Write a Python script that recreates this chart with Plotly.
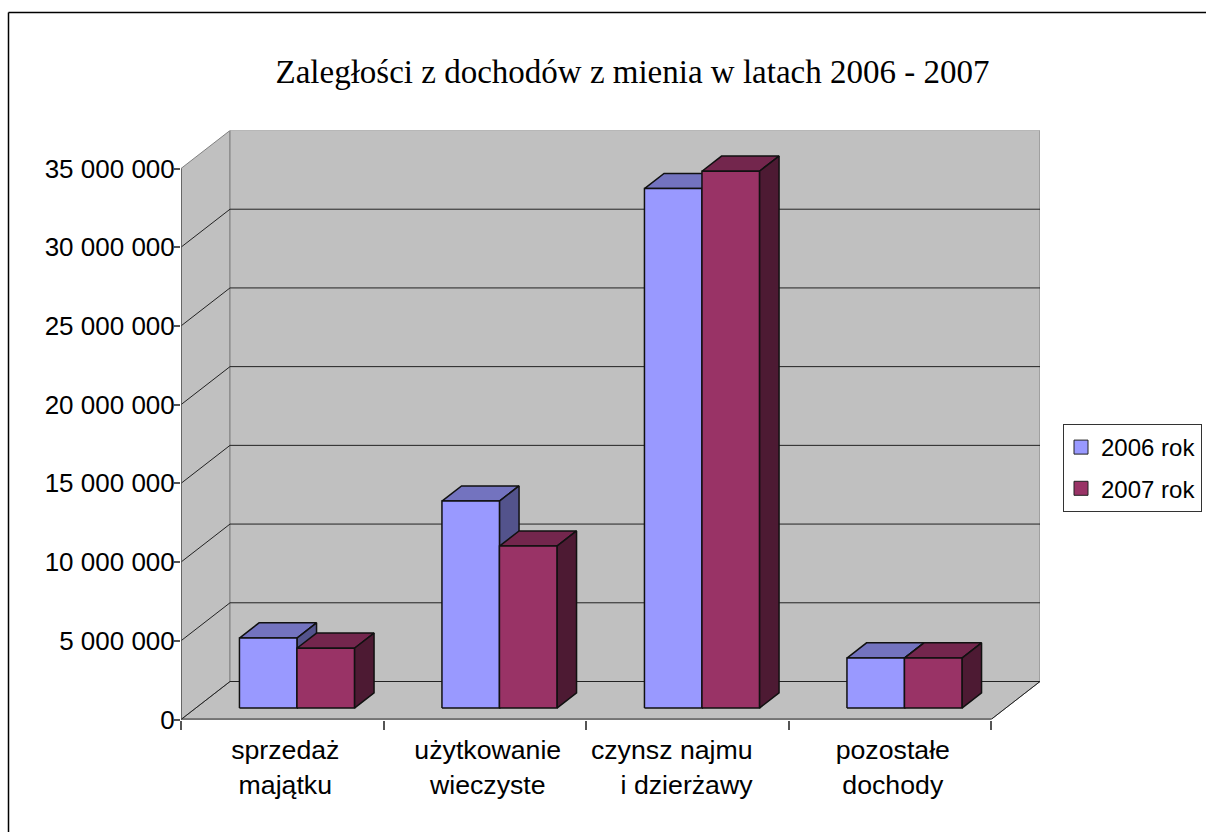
import plotly.graph_objects as go

W, H = 1206, 832

title = "Zaległości z dochodów z mienia w latach 2006 - 2007"
categories = ["sprzedaż<br>majątku", "użytkowanie<br>wieczyste",
              "czynsz najmu\u00a0\u00a0\u00a0\u00a0\u00a0<br>i dzierżawy\u00a0", "pozostałe<br>dochody"]
years = ["2006 rok", "2007 rok"]
values_2006 = [4450000, 13150000, 33000000, 3180000]
values_2007 = [3800000, 10290000, 34100000, 3180000]
y_ticks = [0, 5000000, 10000000, 15000000, 20000000, 25000000, 30000000, 35000000]
y_labels = ["0", "5 000 000", "10 000 000", "15 000 000", "20 000 000",
            "25 000 000", "30 000 000", "35 000 000"]

front_colors = ["#9999FF", "#993366"]
top_colors = ["#7373BF", "#73264D"]
side_colors = ["#53538C", "#4D1A33"]

# pixel layout of the chart box
PX_LEFT, PX_ZERO, PX_PER_CAT, PX_PER_35M = 181.0, 719.5, 202.5, 551.0
PX_DX, PX_DY = 49.0, 38.0
DX = PX_DX / PX_PER_CAT                 # depth in category units
DY = PX_DY / PX_PER_35M * 35000000      # depth in value units
YMAX = 35000000
NC = len(categories)
BAR_W = 57.5 / PX_PER_CAT
BAR_D0, BAR_D1 = 0.30, 0.70             # bar occupies this part of the depth


def proj(x, v, d):
    return x + d * DX, v + d * DY


def poly(points, fill, line, width=1.0):
    xs, ys = zip(*(points + points[:1]))
    return go.Scatter(x=xs, y=ys, mode="lines", fill="toself", fillcolor=fill,
                      line=dict(color=line, width=width), hoverinfo="skip",
                      showlegend=False)


fig = go.Figure()

# walls and floor
fig.add_trace(poly([proj(0, 0, 0), proj(NC, 0, 0), proj(NC, 0, 1), proj(0, 0, 1)], "#C0C0C0", "#808080"))
fig.add_trace(poly([proj(0, 0, 0), proj(0, 0, 1), proj(0, YMAX, 1), proj(0, YMAX, 0)], "#C0C0C0", "#808080"))
fig.add_trace(poly([proj(0, 0, 1), proj(NC, 0, 1), proj(NC, YMAX, 1), proj(0, YMAX, 1)], "#C0C0C0", "#808080"))

# gridlines on the walls
gx, gy = [], []
for v in y_ticks[:-1]:
    pts = [proj(0, v, 0), proj(0, v, 1), proj(NC, v, 1)]
    gx += [p[0] for p in pts] + [None]
    gy += [p[1] for p in pts] + [None]
fig.add_trace(go.Scatter(x=gx, y=gy, mode="lines", line=dict(color="#222222", width=1),
                         hoverinfo="skip", showlegend=False))
# front edge of floor, right edge of floor, left axis
fig.add_trace(go.Scatter(x=[0, NC], y=[0, 0], mode="lines", line=dict(color="#333333", width=2),
                         hoverinfo="skip", showlegend=False))
fig.add_trace(go.Scatter(x=[NC, NC + DX], y=[0, DY], mode="lines", line=dict(color="#222222", width=1),
                         hoverinfo="skip", showlegend=False))
fig.add_trace(go.Scatter(x=[0, 0], y=[0, YMAX], mode="lines", line=dict(color="#555555", width=1.5),
                         hoverinfo="skip", showlegend=False))

# bars, painted back to front from left to right
for c in range(NC):
    center = c + 0.5
    for s, vals in enumerate([values_2006, values_2007]):
        v = vals[c]
        x0 = center - BAR_W + s * BAR_W
        x1 = x0 + BAR_W
        lc = "#111111"
        fig.add_trace(poly([proj(x0, v, BAR_D0), proj(x1, v, BAR_D0), proj(x1, v, BAR_D1), proj(x0, v, BAR_D1)],
                           top_colors[s], lc, 1.5))
        fig.add_trace(poly([proj(x1, 0, BAR_D0), proj(x1, 0, BAR_D1), proj(x1, v, BAR_D1), proj(x1, v, BAR_D0)],
                           side_colors[s], lc, 1.5))
        fig.add_trace(poly([proj(x0, 0, BAR_D0), proj(x1, 0, BAR_D0), proj(x1, v, BAR_D0), proj(x0, v, BAR_D0)],
                           front_colors[s], lc, 1.5))

# legend entries
for s, yr in enumerate(years):
    fig.add_trace(go.Scatter(x=[None], y=[None], mode="markers", name=yr, legendgroup=yr,
                             marker=dict(symbol="square", size=14, color=front_colors[s],
                                         line=dict(color="#222222", width=1))))

fig.update_layout(
    template="none",
    width=W, height=H,
    margin=dict(l=0, r=0, t=0, b=0, autoexpand=False),
    paper_bgcolor="white", plot_bgcolor="white",
    font=dict(family="Liberation Sans", size=26, color="black"),
    title=dict(text=title, x=632.5 / W, xanchor="center", xref="paper",
               y=1 - 71 / H, yanchor="middle", yref="paper",
               font=dict(family="Liberation Serif", size=33, color="black")),
    xaxis=dict(domain=[PX_LEFT / W, (PX_LEFT + NC * PX_PER_CAT + PX_DX) / W],
               range=[0, NC + DX], automargin=False,
               tickmode="array", tickvals=[c + 0.515 for c in range(NC)], ticktext=categories,
               ticks="", ticklen=0, showgrid=False, zeroline=False, showline=False,
               tickangle=0, tickfont=dict(size=26.7), ticklabelstandoff=12,
               minor=dict(ticks="outside", tickmode="array", tickvals=list(range(NC + 1)),
                          ticklen=9, tickwidth=1.5, tickcolor="#555555", showgrid=False)),
    yaxis=dict(domain=[1 - PX_ZERO / H, 1 - (PX_ZERO - PX_PER_35M - PX_DY) / H],
               range=[0, YMAX + DY], automargin=False,
               tickmode="array", tickvals=y_ticks, ticktext=y_labels,
               ticks="outside", ticklen=6, tickwidth=1.5, tickcolor="#555555",
               showgrid=False, zeroline=False, showline=False,
               ticklabelstandoff=-6, tickfont=dict(size=26)),
    legend=dict(x=1063 / W, xanchor="left", y=1 - 424 / H, yanchor="top",
                bgcolor="white", bordercolor="#333333", borderwidth=1, indentation=-3,
                font=dict(family="Liberation Sans", size=24, color="black"),
                tracegroupgap=7, itemwidth=30),
    shapes=[
        dict(type="line", xref="paper", yref="paper", x0=8.5 / W, x1=1, y0=1 - 12.5 / H, y1=1 - 12.5 / H,
             line=dict(color="black", width=1.5)),
        dict(type="line", xref="paper", yref="paper", x0=8.5 / W, x1=8.5 / W, y0=0, y1=1 - 12.5 / H,
             line=dict(color="black", width=1.5)),
    ],
)

fig.write_html("out.html", config={"displayModeBar": False},
               post_script="document.body.style.margin='0';document.body.style.overflow='hidden';")
